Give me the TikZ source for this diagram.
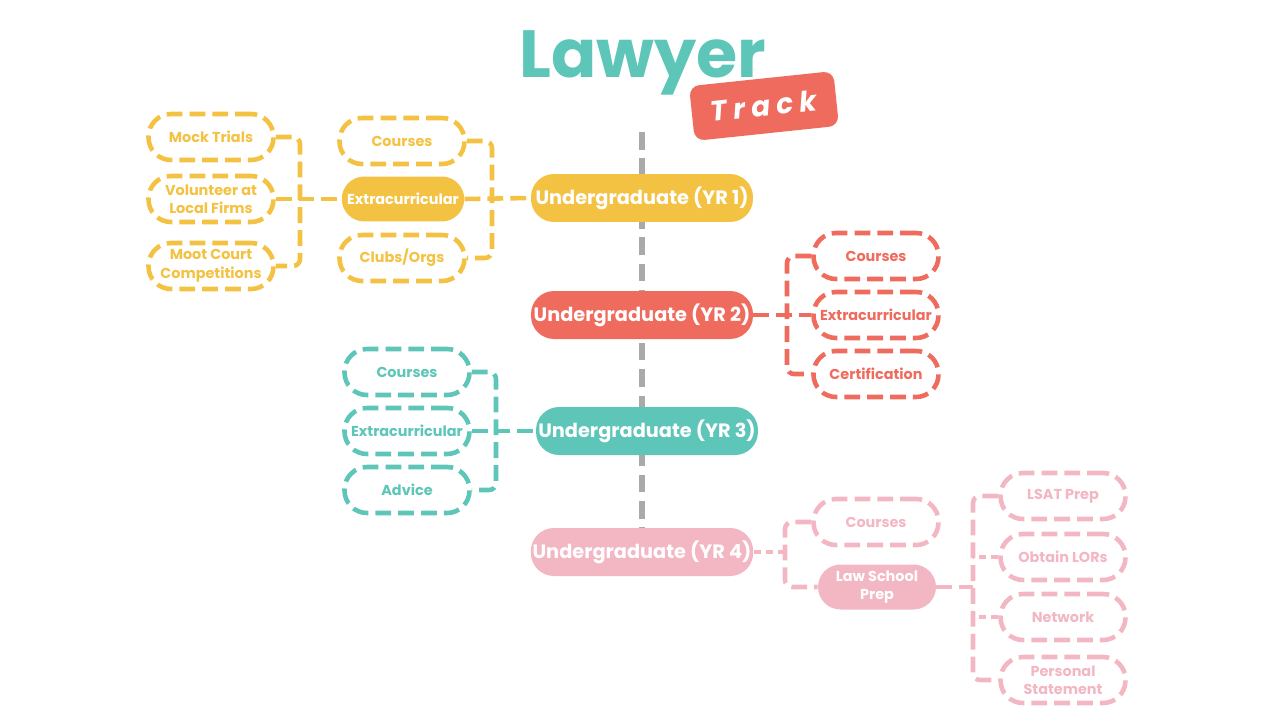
\documentclass[tikz,border=0pt]{standalone}
\usepackage{fontspec}
\setmainfont{Poppins}
\newfontfamily\trackfont[LetterSpace=22]{Poppins}
\usetikzlibrary{positioning, backgrounds}
\definecolor{lawyellow}{HTML}{F4C243}
\definecolor{lawred}{HTML}{EE6B5E}
\definecolor{lawteal}{HTML}{5DC6B8}
\definecolor{lawpink}{HTML}{F3B7C3}
\definecolor{lawgray}{HTML}{AAAAAA}

\begin{document}
\begin{tikzpicture}[x=0.02cm, y=-0.02cm,
    year/.style={fill=#1, text=white, rounded corners=0.46cm, minimum width=4.44cm,
                 minimum height=0.96cm, inner sep=1pt,
                 font=\bfseries\fontsize{11}{13}\selectfont},
    item/.style={draw=#1, text=#1, line width=2.6pt, dash pattern=on 9pt off 4pt,
                 rounded corners=0.45cm, minimum width=2.5cm, minimum height=0.92cm,
                 inner sep=1pt, align=center,
                 font=\bfseries\fontsize{8.2}{10.5}\selectfont},
    hub/.style={fill=#1, text=white, rounded corners=0.45cm, minimum width=2.45cm,
                minimum height=0.9cm, inner sep=1pt, align=center,
                font=\bfseries\fontsize{8.2}{10.5}\selectfont},
    link/.style={draw=#1, line width=2.6pt, dash pattern=on 9pt off 4pt,
                 rounded corners=4pt},
    spine/.style={draw=lawgray, line width=2.9pt, dash pattern=on 10pt off 5pt}
  ]
  \useasboundingbox (0,0) rectangle (1280,720);

  % title
  \node[text=lawteal, font=\bfseries\fontsize{38}{40}\selectfont] (title) at (643,63) {Lawyer};
  \node[fill=lawred, rounded corners=0.2cm, rotate=6, minimum width=2.9cm,
        minimum height=1.1cm, text=white,
        font=\trackfont\bfseries\itshape\fontsize{16}{18}\selectfont] (track) at (764,106) {Track};

  % years
  \node[year=lawyellow] (yr1) at (642,198) {Undergraduate (YR 1)};
  \node[year=lawred] (yr2) at (642,315) {Undergraduate (YR 2)};
  \node[year=lawteal] (yr3) at (647,431) {Undergraduate (YR 3)};
  \node[year=lawpink] (yr4) at (642,552) {Undergraduate (YR 4)};

  \coordinate (spinetop) at (642,132);
  \begin{scope}[on background layer]
    \draw[spine] (spinetop) -- (yr4.north);
  \end{scope}

  % year 1
  \node[item=lawyellow] (cour1) at (402,141) {Courses};
  \node[hub=lawyellow] (extra1) at (403,199) {Extracurricular};
  \node[item=lawyellow] (club1) at (402,258) {Clubs/Orgs};
  \node[item=lawyellow] (mock) at (211,137) {Mock Trials};
  \node[item=lawyellow] (volun) at (211,199) {Volunteer at\\Local Firms};
  \node[item=lawyellow] (moot) at (211,266) {Moot Court\\Competitions};
  \coordinate (br1) at (492,199);
  \coordinate (br1a) at (300,199);
  \draw[link=lawyellow] (cour1.east) -| (br1) |- (club1.east);
  \draw[link=lawyellow] (extra1.east) -- (yr1.west);
  \draw[link=lawyellow] (mock.east) -| (br1a) |- (moot.east);
  \draw[link=lawyellow] (volun.east) -- (extra1.west);

  % year 2
  \node[item=lawred] (cour2) at (876,256) {Courses};
  \node[item=lawred] (extra2) at (876,315) {Extracurricular};
  \node[item=lawred] (cert2) at (876,374) {Certification};
  \coordinate (br2) at (787,315);
  \draw[link=lawred] (cour2.west) -| (br2) |- (cert2.west);
  \draw[link=lawred] (yr2.east) -- (extra2.west);

  % year 3
  \node[item=lawteal] (cour3) at (407,372) {Courses};
  \node[item=lawteal] (extra3) at (407,431) {Extracurricular};
  \node[item=lawteal] (advice) at (407,490) {Advice};
  \coordinate (br3) at (496,431);
  \draw[link=lawteal] (cour3.east) -| (br3) |- (advice.east);
  \draw[link=lawteal] (extra3.east) -- (yr3.west);

  % year 4
  \node[item=lawpink] (cour4) at (876,522) {Courses};
  \node[hub=lawpink, minimum width=2.36cm] (prep) at (877,587) {Law School\\Prep};
  \node[item=lawpink] (lsat) at (1063,496) {LSAT Prep};
  \node[item=lawpink] (lors) at (1063,557) {Obtain LORs};
  \node[item=lawpink] (network) at (1063,617) {Network};
  \node[item=lawpink] (personal) at (1063,680) {Personal\\Statement};
  \coordinate (br4) at (785,552);
  \coordinate (br5) at (973,587);
  \draw[link=lawpink] (cour4.west) -| (br4) |- (prep.west);
  \draw[link=lawpink, dash pattern=on 4pt off 3pt] (yr4.east) -- (br4);
  \draw[link=lawpink] (lsat.west) -| (br5) |- (personal.west);
  \draw[link=lawpink] (prep.east) -- (br5);
  \draw[link=lawpink, dash pattern=on 4pt off 3pt] (lors.west) -- (lors.west -| br5);
  \draw[link=lawpink, dash pattern=on 4pt off 3pt] (network.west) -- (network.west -| br5);
\end{tikzpicture}
\end{document}
